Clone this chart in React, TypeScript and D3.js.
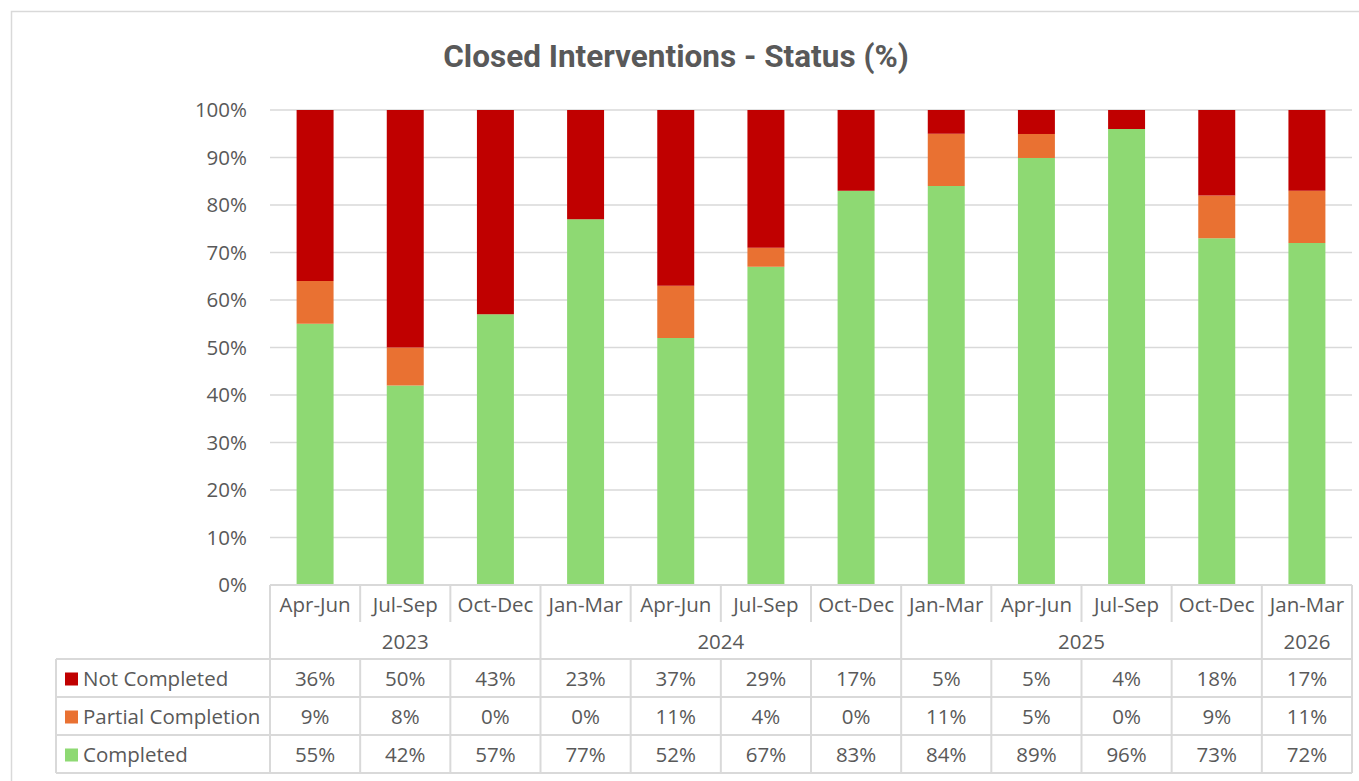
import * as d3 from "d3";
import { useEffect, useRef } from "react";

const quarters = ["Apr-Jun", "Jul-Sep", "Oct-Dec", "Jan-Mar", "Apr-Jun", "Jul-Sep", "Oct-Dec", "Jan-Mar", "Apr-Jun", "Jul-Sep", "Oct-Dec", "Jan-Mar"];
const years = [
    { label: "2023", start: 0, end: 3 },
    { label: "2024", start: 3, end: 7 },
    { label: "2025", start: 7, end: 11 },
    { label: "2026", start: 11, end: 12 }
];
const notCompleted = [36, 50, 43, 23, 37, 29, 17, 5, 5, 4, 18, 17];
const partialCompletion = [9, 8, 0, 0, 11, 4, 0, 11, 5, 0, 9, 11];
const completed = [55, 42, 57, 77, 52, 67, 83, 84, 89, 96, 73, 72];
const yTicks = [0, 0.1, 0.2, 0.3, 0.4, 0.5, 0.6, 0.7, 0.8, 0.9, 1];

const series = [
    { name: "Not Completed", values: notCompleted, color: "#C00000" },
    { name: "Partial Completion", values: partialCompletion, color: "#E97132" },
    { name: "Completed", values: completed, color: "#8ED973" }
];

const FONT = "'Open Sans', sans-serif";
const FS = 20.5;
const TEXT = "#595959";
const LINE = "#D9D9D9";

function App() {
    const ref = useRef(null);

    useEffect(() => {
        d3.select(ref.current).selectAll("*").remove();

        const width = 1359;
        const height = 781;
        const left = 270;
        const right = 1352;
        const top = 110;
        const bottom = 585;

        const svg = d3.select(ref.current)
            .append("svg")
            .attr("width", width)
            .attr("height", height)
            .style("display", "block");

        svg.append("rect")
            .attr("x", 11.5).attr("y", 11.5)
            .attr("width", 1400).attr("height", 900)
            .attr("fill", "#fff")
            .attr("stroke", LINE)
            .attr("stroke-width", 1.5);

        svg.append("text")
            .attr("x", 676).attr("y", 67)
            .attr("text-anchor", "middle")
            .attr("font-family", "Roboto, sans-serif")
            .attr("font-weight", "bold")
            .attr("font-size", 31.5)
            .attr("fill", TEXT)
            .text("Closed Interventions - Status (%)");

        const idx = quarters.map((_, i) => i);
        const cell = d3.scaleBand().domain(idx).range([left, right]);
        const barW = cell.bandwidth() * 0.41;
        const y = d3.scaleLinear().domain([0, 1]).range([bottom, top]);

        // gridlines
        svg.append("g")
            .selectAll("line")
            .data(yTicks)
            .enter()
            .append("line")
            .attr("x1", left).attr("x2", right)
            .attr("y1", d => y(d)).attr("y2", d => y(d))
            .attr("stroke", LINE)
            .attr("stroke-width", 1.5);

        svg.append("g")
            .selectAll("text")
            .data(yTicks)
            .enter()
            .append("text")
            .attr("x", 247)
            .attr("y", d => y(d))
            .attr("dy", "0.35em")
            .attr("text-anchor", "end")
            .attr("font-family", FONT)
            .attr("font-size", FS)
            .attr("fill", TEXT)
            .text(d3.format(".0%"));

        // stacked bars (100%)
        const rows = idx.map(i => {
            const total = completed[i] + partialCompletion[i] + notCompleted[i];
            return {
                i,
                "Completed": completed[i] / total,
                "Partial Completion": partialCompletion[i] / total,
                "Not Completed": notCompleted[i] / total
            };
        });
        const stack = d3.stack().keys(["Completed", "Partial Completion", "Not Completed"])(rows);
        const colorOf = d3.scaleOrdinal(series.map(s => s.name), series.map(s => s.color));

        svg.append("g")
            .selectAll("g")
            .data(stack)
            .enter()
            .append("g")
            .attr("fill", d => colorOf(d.key))
            .selectAll("rect")
            .data(d => d)
            .enter()
            .append("rect")
            .attr("x", d => cell(d.data.i) + (cell.bandwidth() - barW) / 2)
            .attr("width", barW)
            .attr("y", d => y(d[1]))
            .attr("height", d => y(d[0]) - y(d[1]));

        // data table
        const rowH = 38;
        const catTop = bottom;
        const catBottom = 622;
        const yearBottom = 659;
        const tableBottom = yearBottom + rowH * series.length;
        const legendLeft = 56;
        const tbl = svg.append("g").attr("stroke", LINE).attr("stroke-width", 2);

        tbl.append("line").attr("x1", left).attr("x2", right).attr("y1", catTop).attr("y2", catTop);
        series.forEach((_, r) => {
            const yy = yearBottom + rowH * r;
            tbl.append("line").attr("x1", legendLeft).attr("x2", right).attr("y1", yy).attr("y2", yy);
        });
        tbl.append("line").attr("x1", legendLeft).attr("x2", right).attr("y1", tableBottom).attr("y2", tableBottom);
        tbl.append("line").attr("x1", legendLeft).attr("x2", legendLeft).attr("y1", yearBottom).attr("y2", tableBottom);

        const yearEdges = new Set(years.flatMap(yr => [yr.start, yr.end]));
        d3.range(quarters.length + 1).forEach(k => {
            const xx = k === quarters.length ? right : cell(k);
            tbl.append("line")
                .attr("x1", xx).attr("x2", xx)
                .attr("y1", catTop)
                .attr("y2", yearEdges.has(k) ? tableBottom : catBottom);
            if (!yearEdges.has(k)) {
                tbl.append("line").attr("x1", xx).attr("x2", xx).attr("y1", yearBottom).attr("y2", tableBottom);
            }
        });

        const txt = svg.append("g")
            .attr("font-family", FONT)
            .attr("font-size", FS)
            .attr("fill", TEXT)
            .attr("text-anchor", "middle");

        txt.selectAll(".cat")
            .data(quarters)
            .enter()
            .append("text")
            .attr("x", (_, i) => cell(i) + cell.bandwidth() / 2)
            .attr("y", (catTop + catBottom) / 2 + 1)
            .attr("dy", "0.35em")
            .text(d => d);

        txt.selectAll(".yr")
            .data(years)
            .enter()
            .append("text")
            .attr("x", d => (cell(d.start) + (d.end === quarters.length ? right : cell(d.end))) / 2)
            .attr("y", (catBottom + yearBottom) / 2 + 1)
            .attr("dy", "0.35em")
            .text(d => d.label);

        series.forEach((s, r) => {
            const cy = yearBottom + rowH * r + rowH / 2 + 1;
            txt.selectAll(".v" + r)
                .data(s.values)
                .enter()
                .append("text")
                .attr("x", (_, i) => cell(i) + cell.bandwidth() / 2)
                .attr("y", cy)
                .attr("dy", "0.35em")
                .text(d => d + "%");

            svg.append("rect")
                .attr("x", 65).attr("y", cy - 6.5)
                .attr("width", 13).attr("height", 13)
                .attr("fill", s.color);

            svg.append("text")
                .attr("x", 83).attr("y", cy)
                .attr("dy", "0.35em")
                .attr("font-family", FONT)
                .attr("font-size", FS)
                .attr("fill", TEXT)
                .text(s.name);
        });
    }, []);

    return (
        <div ref={ref} style={{ position: "fixed", left: 0, top: 0 }}></div>
    );
}

export default App;
